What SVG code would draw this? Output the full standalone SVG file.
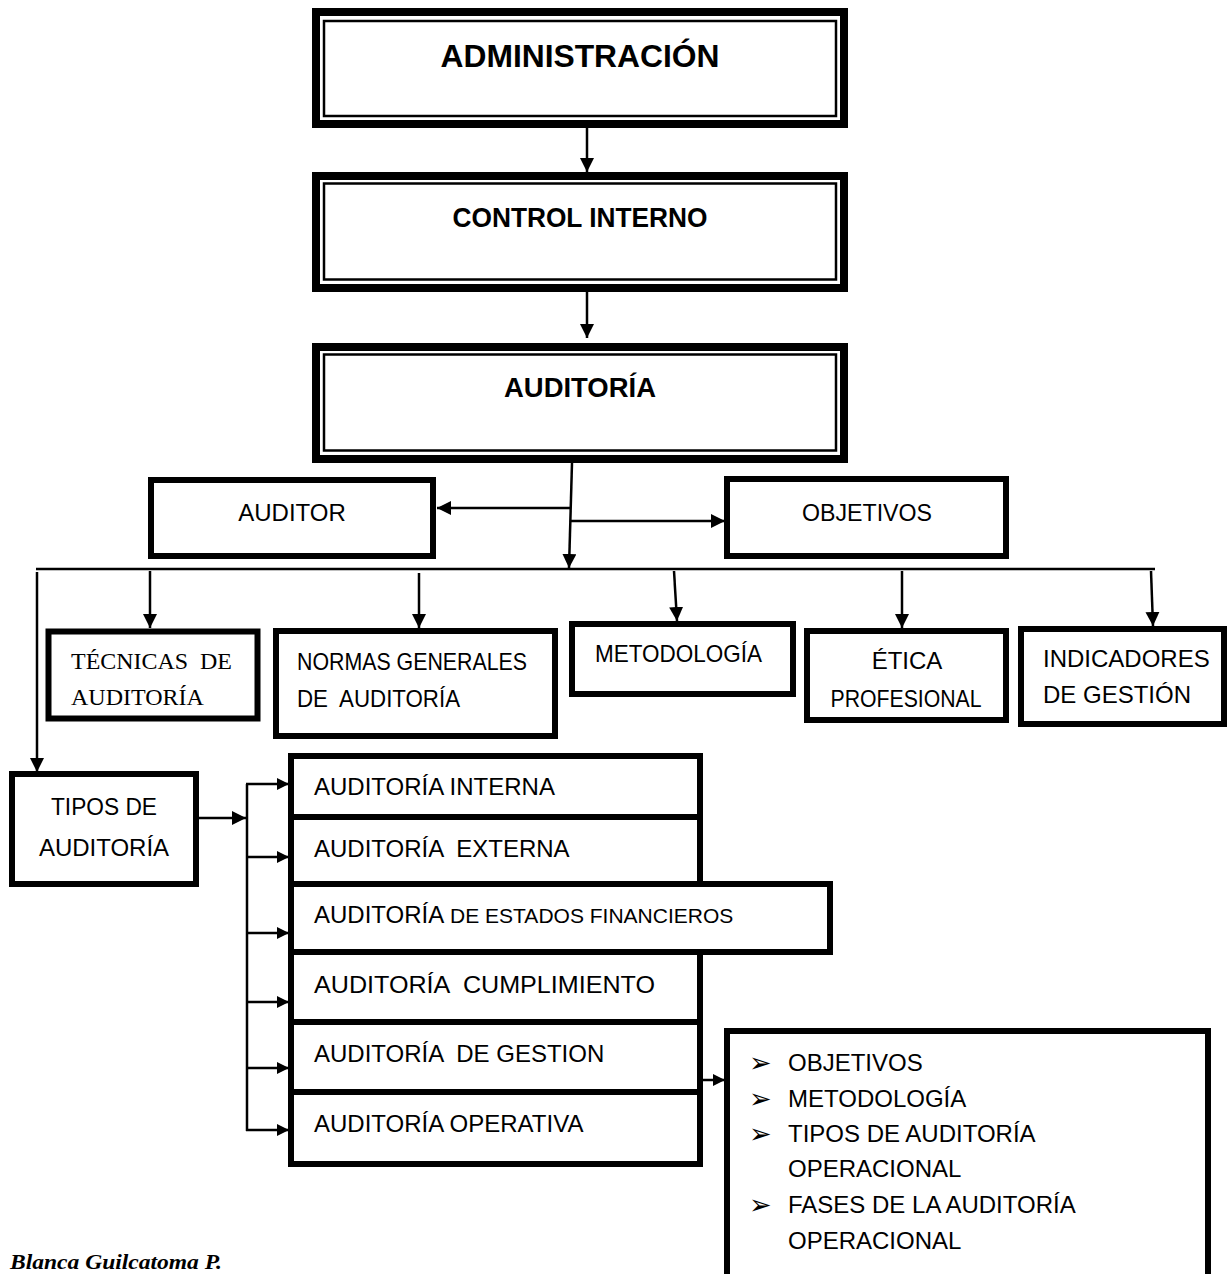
<svg xmlns="http://www.w3.org/2000/svg" width="1232" height="1274" viewBox="0 0 1232 1274">
<style>
.bg{fill:#fff}
.thick{fill:#fff;stroke:#000;stroke-width:8}
.thin{fill:none;stroke:#000;stroke-width:2.5}
.box{fill:#fff;stroke:#000;stroke-width:6}
.con{fill:none;stroke:#000;stroke-width:2.5}
.t{font-family:"Liberation Sans",Arial,sans-serif;font-size:24px;fill:#000}
.b{font-family:"Liberation Sans",Arial,sans-serif;font-weight:bold;fill:#000}
.s{font-family:"Liberation Serif","Times New Roman",serif;font-size:24px;fill:#000}
.c{text-anchor:middle}
.bul{font-family:"DejaVu Sans",sans-serif;font-size:27px;fill:#000}
.sig{font-family:"Liberation Serif",serif;font-style:italic;font-weight:bold;font-size:20px;fill:#000}
</style>
<defs>
<marker id="ah" viewBox="0 0 10 10" refX="10" refY="5" markerWidth="14" markerHeight="14" markerUnits="userSpaceOnUse" orient="auto"><path d="M0,0 L10,5 L0,10z" fill="#000"/></marker>
<marker id="as" viewBox="0 0 10 10" refX="10" refY="5" markerWidth="12" markerHeight="12" markerUnits="userSpaceOnUse" orient="auto"><path d="M0,0 L10,5 L0,10z" fill="#000"/></marker>
</defs>
<rect class="bg" x="0" y="0" width="1232" height="1274"/>

<g id="connectors">
<line class="con" x1="587" y1="128" x2="587" y2="172" marker-end="url(#ah)"/>
<line class="con" x1="587" y1="292" x2="587" y2="338" marker-end="url(#ah)"/>
<line class="con" x1="572" y1="463" x2="569" y2="568" marker-end="url(#ah)"/>
<line class="con" x1="570" y1="508" x2="437" y2="508" marker-end="url(#ah)"/>
<line class="con" x1="571" y1="521" x2="725" y2="521" marker-end="url(#ah)"/>
<line class="con" x1="36" y1="569" x2="1155" y2="569"/>
<line class="con" x1="37" y1="572" x2="37" y2="772" marker-end="url(#ah)"/>
<line class="con" x1="150" y1="571" x2="150" y2="628" marker-end="url(#ah)"/>
<line class="con" x1="419" y1="573" x2="419" y2="628" marker-end="url(#ah)"/>
<line class="con" x1="674" y1="571" x2="677" y2="621" marker-end="url(#ah)"/>
<line class="con" x1="902" y1="571" x2="902" y2="628" marker-end="url(#ah)"/>
<line class="con" x1="1151" y1="571" x2="1153" y2="626" marker-end="url(#ah)"/>
<line class="con" x1="199" y1="818" x2="246" y2="818" marker-end="url(#ah)"/>
<line class="con" x1="247" y1="784" x2="247" y2="1131"/>
<line class="con" x1="246" y1="784" x2="289" y2="784" marker-end="url(#as)"/>
<line class="con" x1="246" y1="857" x2="289" y2="857" marker-end="url(#as)"/>
<line class="con" x1="246" y1="933" x2="289" y2="933" marker-end="url(#as)"/>
<line class="con" x1="246" y1="1002" x2="289" y2="1002" marker-end="url(#as)"/>
<line class="con" x1="246" y1="1068" x2="289" y2="1068" marker-end="url(#as)"/>
<line class="con" x1="246" y1="1130" x2="289" y2="1130" marker-end="url(#as)"/>
<line class="con" x1="703" y1="1080" x2="725" y2="1080" marker-end="url(#as)"/>
</g>

<g id="administracion">
<rect class="thick" x="316" y="12" width="528" height="112"/>
<rect class="thin" x="324" y="21" width="512" height="95"/>
<text class="b c" x="580" y="67" font-size="32" textLength="279" lengthAdjust="spacingAndGlyphs">ADMINISTRACIÓN</text>
</g>
<g id="control-interno">
<rect class="thick" x="316" y="176" width="528" height="112"/>
<rect class="thin" x="324" y="183.5" width="512" height="96"/>
<text class="b c" x="580" y="227" font-size="27" textLength="255" lengthAdjust="spacingAndGlyphs">CONTROL INTERNO</text>
</g>
<g id="auditoria">
<rect class="thick" x="316" y="347" width="528" height="112"/>
<rect class="thin" x="324" y="354.5" width="512" height="96"/>
<text class="b c" x="580" y="397" font-size="27" textLength="152" lengthAdjust="spacingAndGlyphs">AUDITORÍA</text>
</g>

<g id="auditor">
<rect class="box" x="151" y="480" width="282" height="76"/>
<text class="t c" x="292" y="521">AUDITOR</text>
</g>
<g id="objetivos">
<rect class="box" x="727" y="479" width="279" height="77"/>
<text class="t c" x="867" y="521" textLength="130" lengthAdjust="spacingAndGlyphs">OBJETIVOS</text>
</g>

<g id="tecnicas">
<rect class="box" x="48.5" y="631.5" width="209" height="87" stroke-width="7"/>
<text class="s" x="71" y="669" xml:space="preserve" textLength="161" lengthAdjust="spacingAndGlyphs">TÉCNICAS  DE</text>
<text class="s" x="71" y="705">AUDITORÍA</text>
</g>
<g id="normas">
<rect class="box" x="276" y="631" width="279" height="105"/>
<text class="t" x="297" y="670" font-size="22" textLength="230" lengthAdjust="spacingAndGlyphs">NORMAS GENERALES</text>
<text class="t" x="297" y="707" font-size="22" xml:space="preserve" textLength="163" lengthAdjust="spacingAndGlyphs">DE  AUDITORÍA</text>
</g>
<g id="metodologia">
<rect class="box" x="572" y="624" width="221" height="70"/>
<text class="t" x="595" y="662" font-size="22" textLength="167" lengthAdjust="spacingAndGlyphs">METODOLOGÍA</text>
</g>
<g id="etica">
<rect class="box" x="807" y="631" width="199" height="89"/>
<text class="t c" x="907" y="669" font-size="22">ÉTICA</text>
<text class="t c" x="906" y="707" font-size="22" textLength="151" lengthAdjust="spacingAndGlyphs">PROFESIONAL</text>
</g>
<g id="indicadores">
<rect class="box" x="1021" y="629" width="203" height="95"/>
<text class="t" x="1043" y="667" font-size="21">INDICADORES</text>
<text class="t" x="1043" y="703" font-size="21">DE GESTIÓN</text>
</g>

<g id="tipos">
<rect class="box" x="12" y="774" width="184" height="110"/>
<text class="t c" x="104" y="815" textLength="106" lengthAdjust="spacingAndGlyphs">TIPOS DE</text>
<text class="t c" x="104" y="856">AUDITORÍA</text>
</g>

<g id="aud-interna">
<rect class="box" x="291" y="756" width="409" height="61"/>
<text class="t" x="314" y="795">AUDITORÍA INTERNA</text>
</g>
<g id="aud-externa">
<rect class="box" x="291" y="817" width="409" height="67"/>
<text class="t" x="314" y="857" xml:space="preserve">AUDITORÍA  EXTERNA</text>
</g>
<g id="aud-cumplimiento">
<rect class="box" x="291" y="952" width="409" height="70"/>
<text class="t" x="314" y="993" xml:space="preserve" textLength="341" lengthAdjust="spacingAndGlyphs">AUDITORÍA  CUMPLIMIENTO</text>
</g>
<g id="aud-gestion">
<rect class="box" x="291" y="1022" width="409" height="70"/>
<text class="t" x="314" y="1062" xml:space="preserve">AUDITORÍA  DE GESTION</text>
</g>
<g id="aud-operativa">
<rect class="box" x="291" y="1092" width="409" height="72"/>
<text class="t" x="314" y="1132">AUDITORÍA OPERATIVA</text>
</g>
<g id="aud-estados">
<rect class="box" x="291" y="884" width="539" height="68"/>
<text class="t" x="314" y="923">AUDITORÍA<tspan font-size="21"> DE ESTADOS FINANCIEROS</tspan></text>
</g>

<g id="operativa-detalle">
<path d="M727,1274 V1031 H1208 V1274" fill="#fff" stroke="#000" stroke-width="6"/>
<text class="bul" x="749" y="1072">➢</text>
<text class="t" x="788" y="1071">OBJETIVOS</text>
<text class="bul" x="749" y="1108">➢</text>
<text class="t" x="788" y="1107">METODOLOGÍA</text>
<text class="bul" x="749" y="1143">➢</text>
<text class="t" x="788" y="1142">TIPOS DE AUDITORÍA</text>
<text class="t" x="788" y="1177">OPERACIONAL</text>
<text class="bul" x="749" y="1214">➢</text>
<text class="t" x="788" y="1213">FASES DE LA AUDITORÍA</text>
<text class="t" x="788" y="1249">OPERACIONAL</text>
</g>

<text class="sig" x="10" y="1269" textLength="212" lengthAdjust="spacingAndGlyphs">Blanca Guilcatoma P.</text>
</svg>
